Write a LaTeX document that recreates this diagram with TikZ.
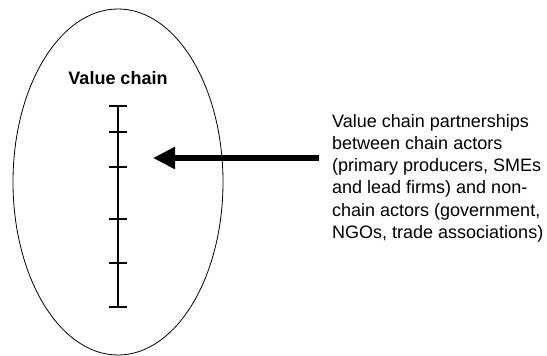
\documentclass[tikz,border=0pt]{standalone}
\usepackage{fontspec}
\setmainfont{Liberation Sans}
\usetikzlibrary{arrows.meta,positioning,shapes.geometric,calc}

\begin{document}
\begin{tikzpicture}[
        x=1pt,y=-1pt,
        chain/.style={ellipse,draw,line width=0.8pt,minimum width=210pt,minimum height=346pt,inner sep=0pt},
        chaintitle/.style={font=\fontsize{18}{21}\selectfont\bfseries},
        partners/.style={align=left,inner sep=0pt,font=\fontsize{18}{22.2}\selectfont},
        rung/.style={line width=1.2pt},
        bigarrow/.style={-{Triangle[length=22pt,width=21pt]},line width=6pt}
    ]
        \useasboundingbox (0,0) rectangle (547,356);
        \node[chain] (vc) at (118,182) {};
        \node[chaintitle] (vctitle) at (118,78) {Value chain};

        \coordinate (ladtop) at (118,106);
        \coordinate (ladbot) at (118,307);
        \draw[rung] (ladtop) -- (ladbot);
        \foreach \y in {106,132,167,219,263,307}
            \draw[rung] (109,\y) -- (127,\y);

        \node[partners,anchor=north west] (pship) at (332,114) {Value chain partnerships\\between chain actors\\(primary producers, SMEs\\and lead firms) and non-\\chain actors (government,\\NGOs, trade associations)};

        \coordinate (tail) at (319,158);
        \coordinate (tip) at (153,158);
        \draw[bigarrow] (tail) -- (tip);
    \end{tikzpicture}
\end{document}
